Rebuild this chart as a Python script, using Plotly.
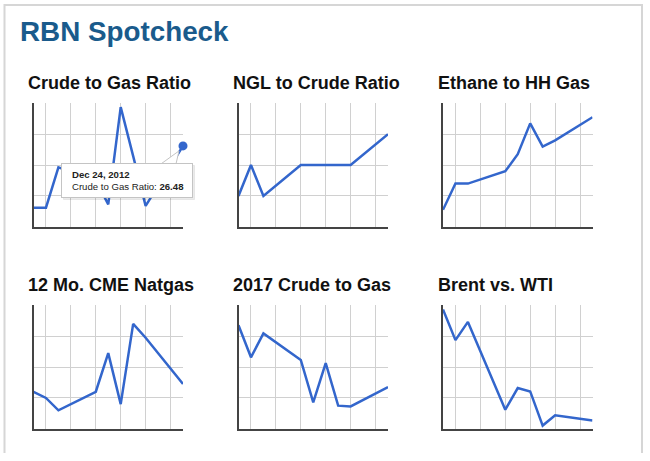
import pandas as pd
import plotly.graph_objects as go

# ---------------- data ----------------
dates = ["2012-10-01", "2012-10-08", "2012-10-15", "2012-11-05", "2012-11-12",
         "2012-11-19", "2012-11-26", "2012-12-03", "2012-12-24"]
grid_dates = ["2012-10-08", "2012-10-22", "2012-11-05", "2012-11-19",
              "2012-12-03", "2012-12-17"]

titles = ["Crude to Gas Ratio", "NGL to Crude Ratio", "Ethane to HH Gas",
          "12 Mo. CME Natgas", "2017 Crude to Gas", "Brent vs. WTI"]

crude_to_gas = [18.47, 18.47, 23.70, 22.00, 18.90, 31.50, 25.16, 18.70, 26.48]
ngl_to_crude = [0.40, 0.50, 0.40, 0.50, 0.50, 0.50, 0.50, 0.50, 0.60]
ethane_to_hh = [0.91, 1.08, 1.08, 1.16, 1.27, 1.47, 1.32, 1.36, 1.51]
cme_natgas = [3.64, 3.60, 3.52, 3.64, 3.89, 3.56, 4.08, 3.99, 3.69]
crude_gas_2017 = [24.71, 22.63, 24.18, 22.46, 19.71, 22.25, 19.50, 19.45, 20.70]
brent_wti = [23.45, 19.49, 21.85, 10.48, 13.28, 12.84, 8.42, 9.75, 9.07]

series = [crude_to_gas, ngl_to_crude, ethane_to_hh,
          cme_natgas, crude_gas_2017, brent_wti]
y_ranges = [(16, 32), (0.3, 0.7), (0.8, 1.6), (3.4, 4.2), (18, 26), (8, 24)]

# ---------------- layout geometry (pixels) ----------------
W, H = 650, 461
col_x0 = [33.5, 238.5, 443.0]
plot_w = 149.5
row_top = [103.3, 305.3]
plot_h = 123.5
title_bottom = [95.5, 297.0]

LINE_BLUE = "#3366cc"
GRID = "#d0d0d0"
AXIS = "#444444"
FONT = "Liberation Sans, Arial, sans-serif"

fig = go.Figure()
annotations = []

for i, vals in enumerate(series):
    r, c = divmod(i, 3)
    sfx = "" if i == 0 else str(i + 1)
    x0 = col_x0[c]
    top = row_top[r]
    fig.add_trace(go.Scatter(
        x=dates, y=vals, mode="lines",
        line=dict(color=LINE_BLUE, width=2.5),
        xaxis="x" + sfx, yaxis="y" + sfx,
        hoverinfo="skip", cliponaxis=False, showlegend=False,
    ))
    lo, hi = y_ranges[i]
    fig.update_layout(**{
        "xaxis" + sfx: dict(
            type="date", domain=[x0 / W, (x0 + plot_w) / W],
            anchor="y" + sfx, range=[dates[0], dates[-1]],
            tickmode="array", tickvals=grid_dates, showticklabels=False,
            ticks="", showgrid=True, gridcolor=GRID, gridwidth=1,
            showline=True, linecolor=AXIS, linewidth=2, zeroline=False,
            fixedrange=True,
        ),
        "yaxis" + sfx: dict(
            domain=[1 - (top + plot_h) / H, 1 - top / H],
            anchor="x" + sfx, range=[lo, hi],
            tick0=lo, dtick=(hi - lo) / 4, showticklabels=False,
            ticks="", showgrid=True, gridcolor=GRID, gridwidth=1,
            showline=True, linecolor=AXIS, linewidth=2, zeroline=False,
            fixedrange=True,
        ),
    })
    annotations.append(dict(
        text="<b>" + titles[i] + "</b>", xref="paper", yref="paper",
        x=(x0 - 7.5) / W, y=1 - title_bottom[r] / H,
        xanchor="left", yanchor="bottom", showarrow=False,
        font=dict(family=FONT, size=18, color="#111111"),
    ))

# highlighted last point of the first chart with its tooltip
fig.add_trace(go.Scatter(
    x=[dates[-1]], y=[crude_to_gas[-1]], mode="markers",
    marker=dict(color=LINE_BLUE, size=9),
    xaxis="x", yaxis="y", hoverinfo="skip", cliponaxis=False,
    showlegend=False,
))

tip_date = pd.Timestamp(dates[-1]).strftime("%b %d, %Y").replace(" 0", " ")
tip_text = ("<b>" + tip_date + "</b><br>" + titles[0] + ": <b>"
            + f"{crude_to_gas[-1]:.2f}" + "</b>")

# shadow, box, text
annotations.append(dict(
    text="&nbsp;", x=dates[-1], y=crude_to_gas[-1], xref="x", yref="y",
    xanchor="right", yanchor="top", xshift=12, yshift=-19,
    width=130, height=33, borderpad=0, borderwidth=1,
    bordercolor="rgba(0,0,0,0.06)", bgcolor="rgba(0,0,0,0.08)",
    showarrow=False,
))
annotations.append(dict(
    text="&nbsp;", x=dates[-1], y=crude_to_gas[-1], xref="x", yref="y",
    xanchor="right", yanchor="top", xshift=10, yshift=-17,
    width=130, height=33, borderpad=0, borderwidth=1,
    bordercolor="#c4c4c4", bgcolor="white", showarrow=False,
))
annotations.append(dict(
    text=tip_text, x=dates[-1], y=crude_to_gas[-1], xref="x", yref="y",
    xanchor="left", yanchor="middle", xshift=-113.5, yshift=-34.5,
    align="left", showarrow=False,
    font=dict(family=FONT, size=9.6, color="#222222"),
))

# main title
annotations.append(dict(
    text="<b>RBN Spotcheck</b>", xref="paper", yref="paper",
    x=18 / W, y=1 - 49.5 / H, xanchor="left", yanchor="bottom",
    showarrow=False, font=dict(family=FONT, size=27.8, color="#1a5b8c"),
))

shapes = [
    # callout triangle anchored at the highlighted point
    dict(type="path", xref="x", yref="y", xsizemode="pixel",
         ysizemode="pixel", xanchor=dates[-1], yanchor=crude_to_gas[-1],
         path="M -4,-5 L -22,-18 L -7,-18 Z", fillcolor="white",
         line=dict(color="#c4c4c4", width=1), layer="above"),
    # outer frame
    dict(type="path", xref="paper", yref="paper",
         path=f"M {4.5 / W},{1 - 453 / H} L {4.5 / W},{1 - 5 / H} "
              f"L {642 / W},{1 - 5 / H} L {642 / W},{1 - 453 / H}",
         line=dict(color="#d6d6d6", width=2), layer="below"),
]

fig.update_layout(
    width=W, height=H, margin=dict(l=0, r=0, t=0, b=0),
    paper_bgcolor="white", plot_bgcolor="white",
    annotations=annotations, shapes=shapes, showlegend=False,
    hovermode=False,
)

fig.write_html("out.html", config={"displayModeBar": False})
